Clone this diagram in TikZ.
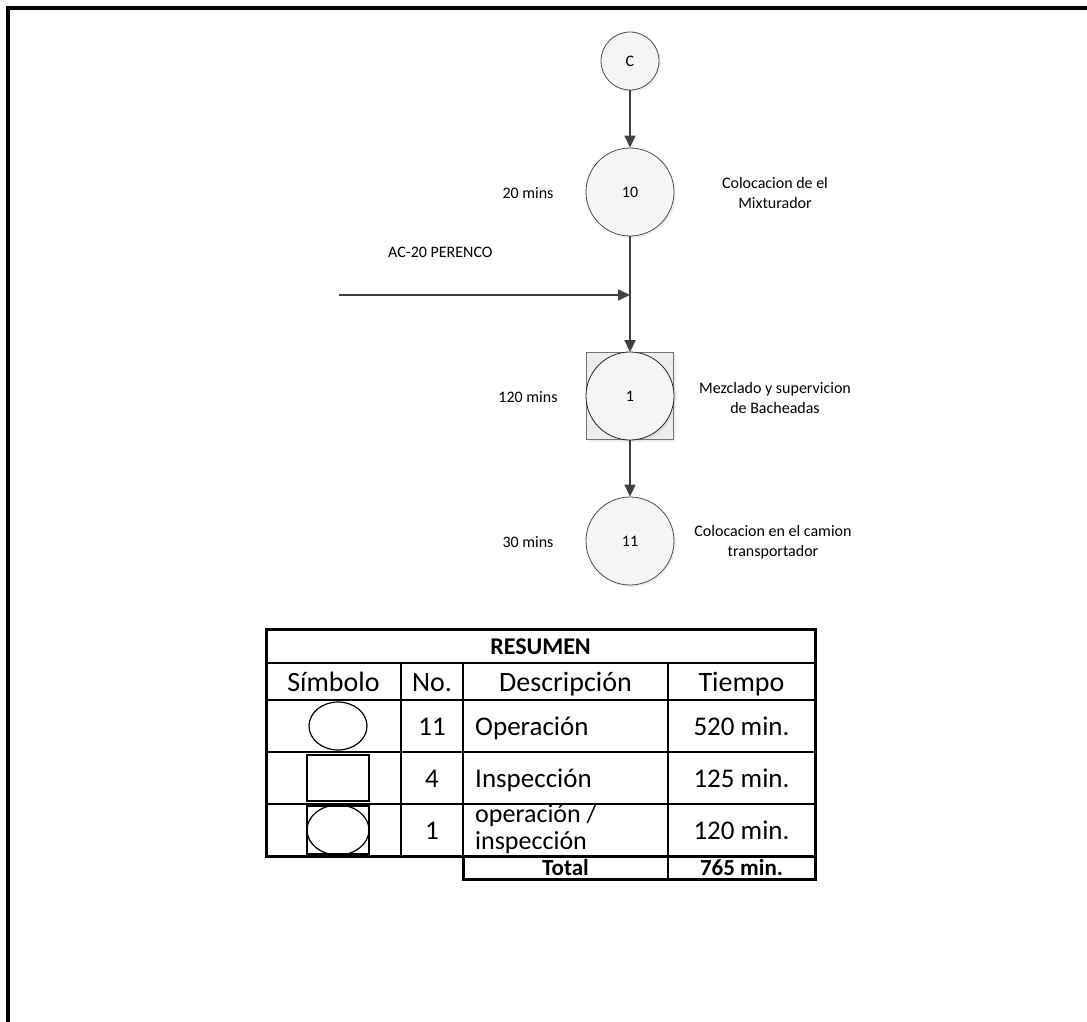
\documentclass[tikz,border=0pt]{standalone}
\usepackage{fontspec}
\setmainfont{Carlito}
\usetikzlibrary{arrows.meta,shadows}
\begin{document}
\begin{tikzpicture}[x=1pt,y=-1pt,
  proc/.style={circle,draw=black!70,line width=0.8pt,fill=black!4,
    minimum size=88pt,inner sep=0pt,font=\fontsize{16}{20}\selectfont,
    drop shadow={shadow xshift=2pt,shadow yshift=-2pt,opacity=0.12}},
  conn/.style={circle,draw=black!70,line width=0.8pt,fill=black!4,
    minimum size=58pt,inner sep=0pt,font=\fontsize{16}{20}\selectfont,
    drop shadow={shadow xshift=2pt,shadow yshift=-2pt,opacity=0.12}},
  insp/.style={rectangle,draw=black!55,line width=0.8pt,fill=black!7,
    minimum size=87pt,inner sep=0pt,
    drop shadow={shadow xshift=2pt,shadow yshift=-2pt,opacity=0.12}},
  flow/.style={draw=black!75,line width=1.6pt,-{Triangle[length=12pt,width=11pt]}},
  lbl/.style={font=\fontsize{16}{20}\selectfont,align=center,inner sep=0pt},
  tline/.style={line width=2pt},
  touter/.style={line width=3pt},
  sym/.style={draw,line width=1.2pt},
  thead/.style={font=\fontsize{28}{30}\selectfont,inner sep=0pt,anchor=base},
  tcell/.style={font=\fontsize{27}{28}\selectfont,inner sep=0pt,anchor=base},
  tmulti/.style={font=\fontsize{26}{27}\selectfont,inner sep=0pt,align=left,anchor=base west},
  tbold/.style={font=\fontsize{23}{26}\selectfont\bfseries,inner sep=0pt,anchor=base}]

\useasboundingbox (0,0) rectangle (1087,1022);

% page frame
\draw[line width=4pt] (8,1022) -- (8,8) -- (1087,8);

% process chart
\node[conn] (c) at (630,61) {C};
\node[proc] (op10) at (630,192) {10};
\node[insp] (box1) at (630,396) {};
\node[proc,draw=black!85,drop shadow={opacity=0}] (op1) at (630,396) {1};
\node[proc] (op11) at (630,541) {11};

\node[lbl] (t10) at (528,193) {20 mins};
\node[lbl] (d10) at (775,193) {Colocacion de el\\Mixturador};
\node[lbl] (t1) at (528,397) {120 mins};
\node[lbl] (d1) at (775,398) {Mezclado y supervicion\\de Bacheadas};
\node[lbl] (t11) at (528,542) {30 mins};
\node[lbl] (d11) at (773,542) {Colocacion en el camion\\transportador};

\node[lbl,anchor=west] (mat) at (388,252) {AC-20 PERENCO};
\coordinate (matstart) at (339,295);
\coordinate (join) at (630,295);

\draw[flow] (c) -- (op10);
\draw[flow] (op10) -- (box1);
\draw[flow] (matstart) -- (join);
\draw[flow] (box1) -- (op11);

% summary table
\draw[touter] (266,629) rectangle (815,856);
\draw[touter] (463,856) -- (463,879) -- (815,879) -- (815,856);
\draw[tline] (266,663) -- (815,663);
\draw[tline] (266,700) -- (815,700);
\draw[tline] (266,752) -- (815,752);
\draw[tline] (266,804) -- (815,804);
\draw[tline] (401,663) -- (401,856);
\draw[tline] (463,663) -- (463,856);
\draw[tline] (668,663) -- (668,879);

\node[tbold,font=\fontsize{24}{28}\selectfont\bfseries] (res) at (540.5,654) {RESUMEN};
\node[thead] (hs) at (333.5,691) {Símbolo};
\node[thead] (hn) at (432,691) {No.};
\node[thead] (hd) at (565.5,691) {Descripción};
\node[thead] (ht) at (741.5,691) {Tiempo};

\draw[sym] (338,726) ellipse [x radius=29,y radius=24];
\node[tcell] (n1) at (432,735) {11};
\node[tcell,anchor=base west] (desc1) at (475,735) {Operación};
\node[tcell] (time1) at (741.5,735) {520 min.};

\draw[sym] (307,755) rectangle (369,801);
\node[tcell] (n2) at (432,787) {4};
\node[tcell,anchor=base west] (desc2) at (475,787) {Inspección};
\node[tcell] (time2) at (741.5,787) {125 min.};

\draw[sym] (307,806) rectangle (369,854);
\draw[sym] (338,830) ellipse [x radius=31,y radius=25];
\node[tcell] (n3) at (432,839) {1};
\node[tmulti] (desc3) at (475,849) {operación /\\inspección};
\node[tcell] (time3) at (741.5,839) {120 min.};

\node[tbold] (tot) at (565.5,875) {Total};
\node[tbold] (totv) at (741.5,875) {765 min.};
\end{tikzpicture}
\end{document}
